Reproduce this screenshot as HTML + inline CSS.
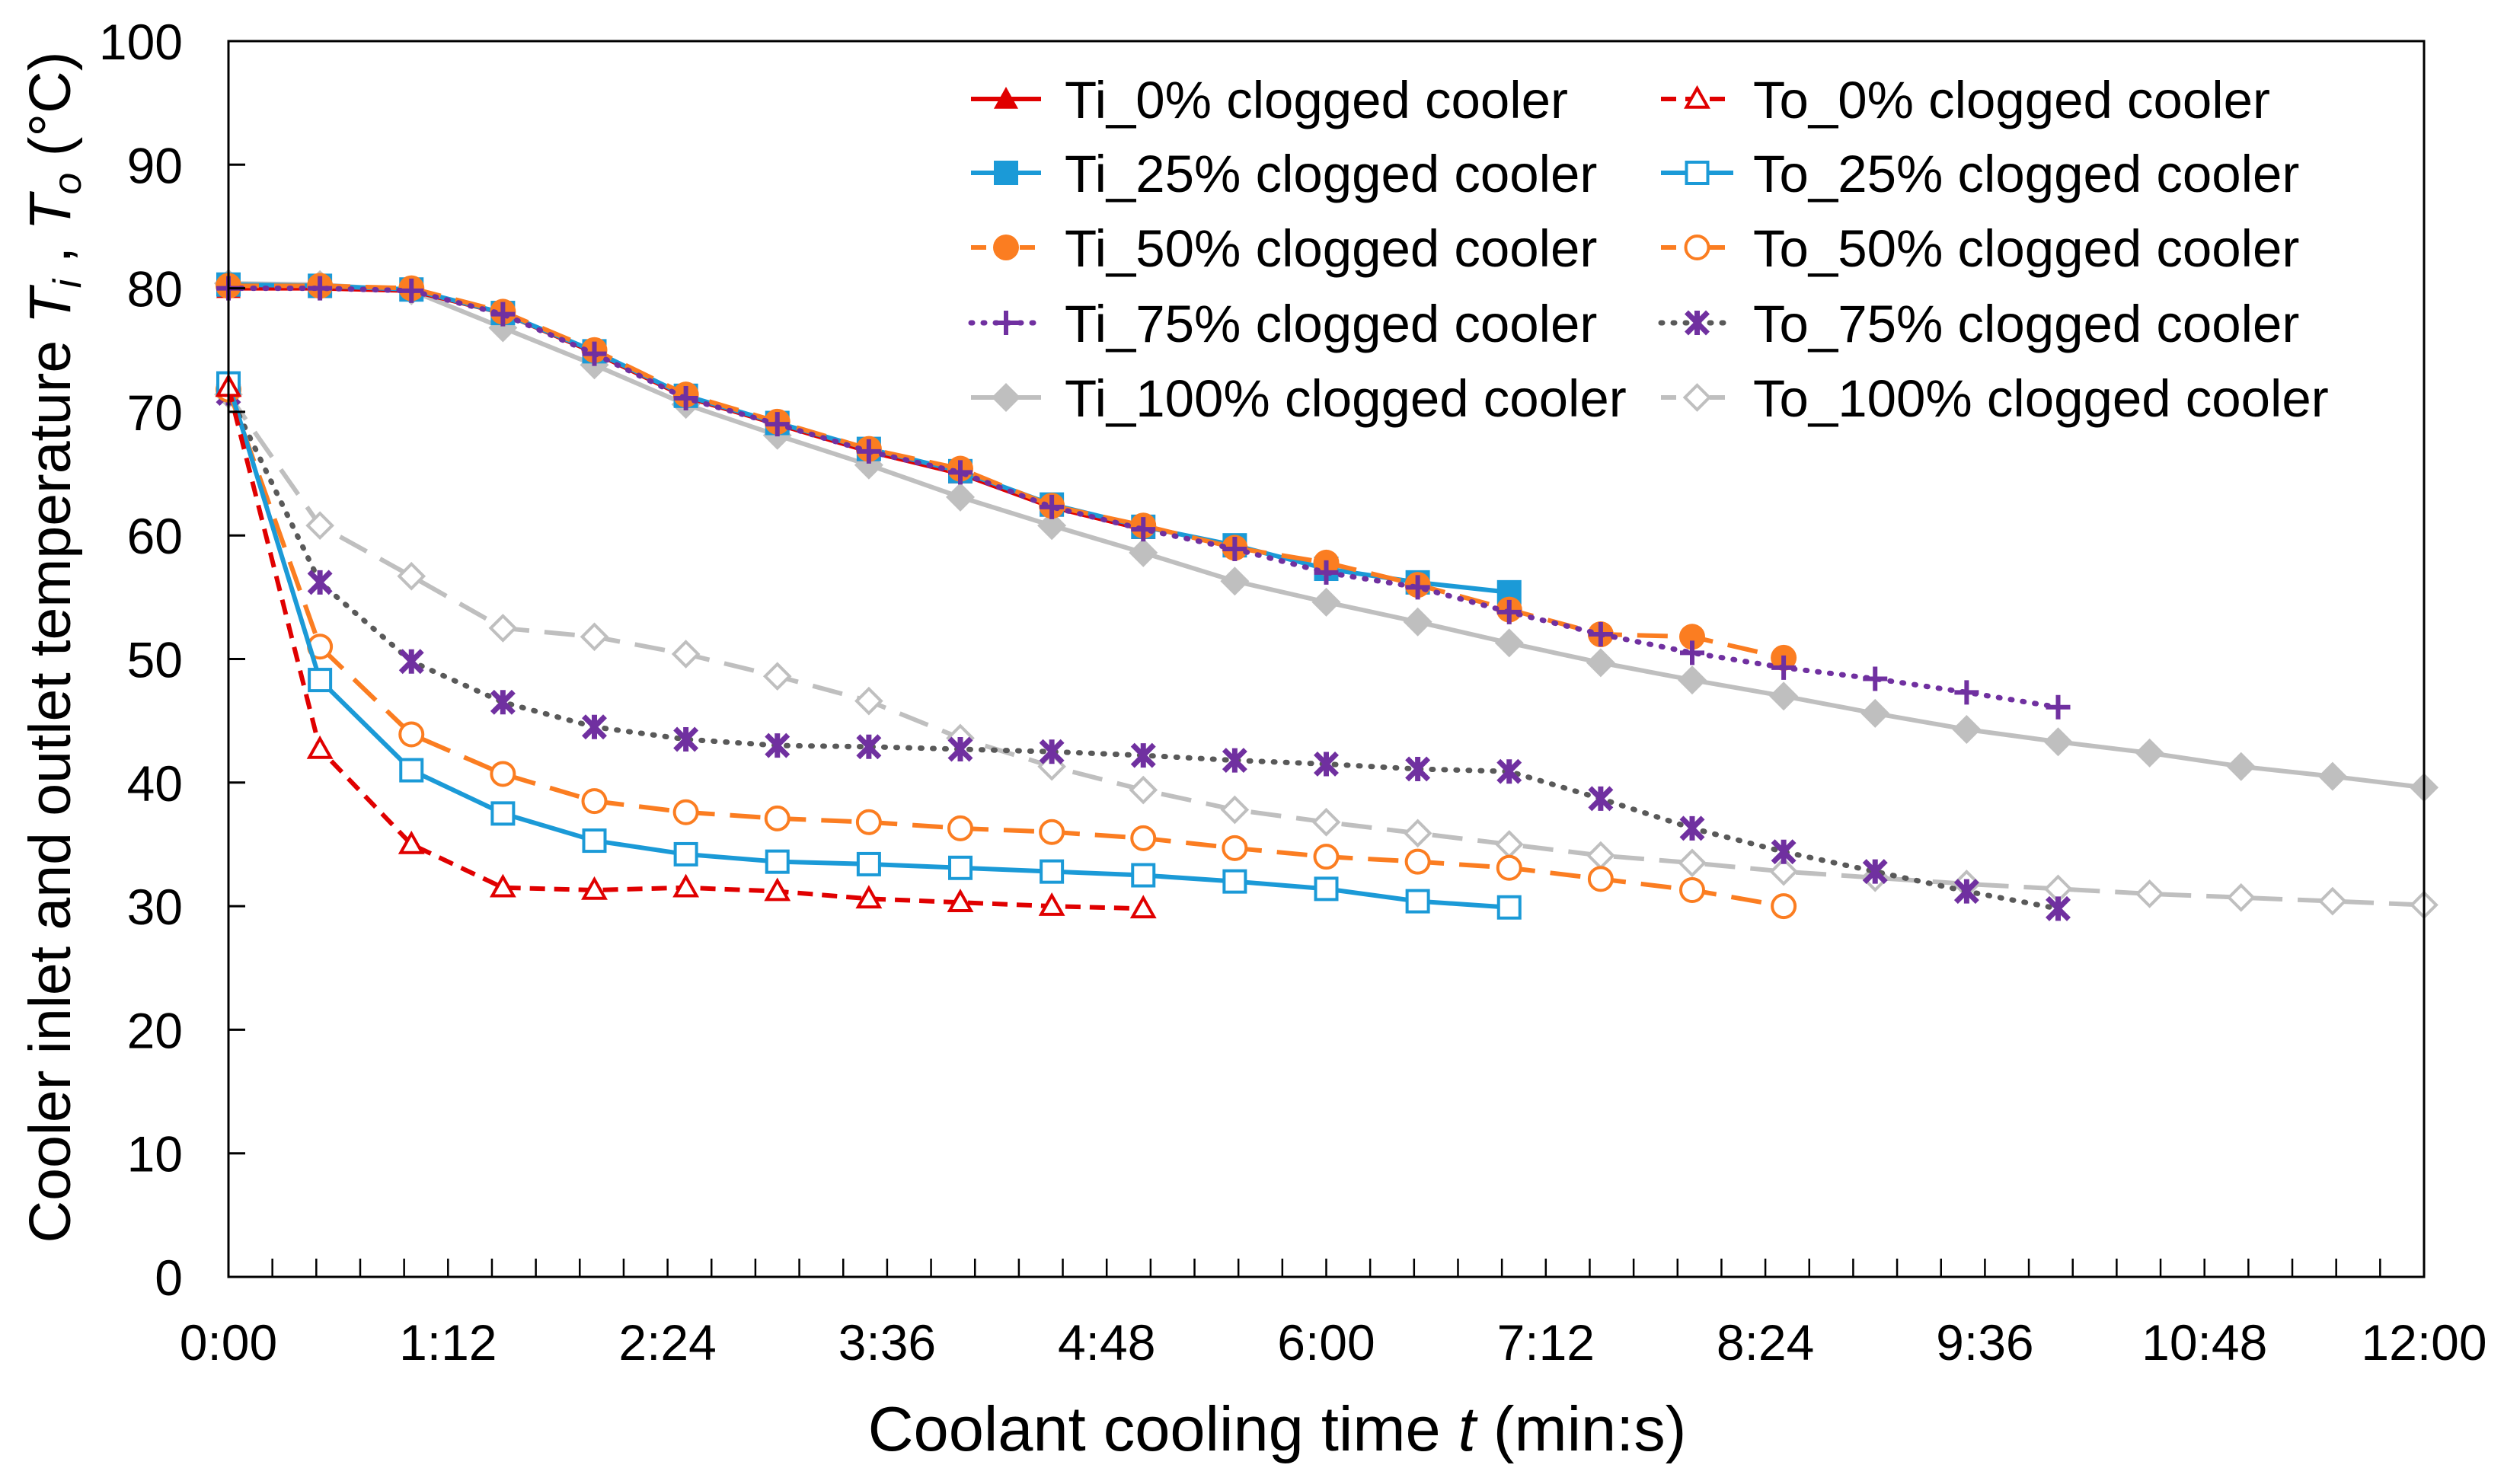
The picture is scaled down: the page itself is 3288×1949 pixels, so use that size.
<!DOCTYPE html>
<html><head><meta charset="utf-8"><style>
html,body{margin:0;padding:0;background:#fff;}
svg{display:block;font-family:"Liberation Sans",Arial,sans-serif;}
</style></head><body>
<svg id="chart" width="3288" height="1949" viewBox="0 0 3288 1949" xmlns="http://www.w3.org/2000/svg">
<rect x="0" y="0" width="3288" height="1949" fill="#fff"/>
<g id="grid"></g>
<g id="series"></g>
<g id="axes"></g>
<g id="legend"></g>
<text x="1677" y="1905" font-size="83" text-anchor="middle">Coolant cooling time <tspan font-style="italic">t</tspan> (min:s)</text>
<text transform="translate(92,850) rotate(-90)" font-size="77" text-anchor="middle">Cooler inlet and outlet temperature <tspan font-style="italic">T</tspan><tspan font-style="italic" font-size="52" dy="14">i</tspan><tspan dy="-14"> ,  </tspan><tspan font-style="italic">T</tspan><tspan font-style="italic" font-size="52" dy="14">o</tspan><tspan dy="-14"> (°C)</tspan></text>
</svg>
<script>
// ---- data (time in seconds, step 30 s) ----
const xTickLabels = ["0:00","1:12","2:24","3:36","4:48","6:00","7:12","8:24","9:36","10:48","12:00"];
const yTickLabels = [0,10,20,30,40,50,60,70,80,90,100];
const ti0   = [80,80,79.8,78,74.8,71.2,69,66.8,65,62.3,60.5];
const to0   = [72,42.7,35,31.5,31.3,31.5,31.2,30.6,30.3,30,29.8];
const ti25  = [80.3,80.2,79.9,78,74.9,71.3,69.1,67,65.2,62.5,60.7,59.2,57.3,56.2,55.4];
const to25  = [72.3,48.3,41,37.5,35.3,34.2,33.6,33.4,33.1,32.8,32.5,32,31.4,30.4,29.9];
const ti50  = [80.2,80.2,80,78.1,75,71.4,69.2,67,65.4,62.4,60.8,59,57.8,56,54,52,51.8,50.1];
const to50  = [71.8,51,43.9,40.7,38.5,37.6,37.1,36.8,36.3,36,35.5,34.7,34,33.6,33.1,32.2,31.3,30];
const ti75  = [80,80,79.8,77.9,74.7,71.1,69,66.8,65.1,62.3,60.5,58.9,57,55.8,53.8,52,50.5,49.3,48.4,47.3,46.1];
const to75  = [71.5,56.2,49.8,46.5,44.5,43.5,43,42.9,42.7,42.5,42.2,41.8,41.5,41.1,40.9,38.7,36.3,34.4,32.8,31.2,29.8];
const ti100 = [80.4,80.3,79.8,76.8,73.8,70.6,68.1,65.7,63.1,60.8,58.6,56.3,54.6,53,51.3,49.7,48.3,47,45.6,44.3,43.3,42.4,41.3,40.5,39.6];
const to100 = [71.4,60.8,56.7,52.5,51.8,50.4,48.6,46.6,43.6,41.3,39.4,37.8,36.8,35.9,35,34.1,33.5,32.8,32.3,31.8,31.4,31,30.7,30.4,30.1];
const timeStep = 30;

const NS="http://www.w3.org/2000/svg";
const L=300,R=3183,T=54,B=1677,XMAX=720,YMAX=100;
const xs=t=>L+(t/XMAX)*(R-L);
const ys=v=>B-(v/YMAX)*(B-T);
function mk(tag,attrs,parent){const e=document.createElementNS(NS,tag);for(const k in attrs)e.setAttribute(k,attrs[k]);parent.appendChild(e);return e;}
const axes=document.getElementById('axes'),ser=document.getElementById('series'),leg=document.getElementById('legend');

const frame=mk('rect',{x:L,y:T,width:R-L,height:B-T,fill:'none',stroke:'#000','stroke-width':3},axes);


yTickLabels.forEach(v=>{
  const y=ys(v);
  const tk=mk('line',{x1:L,x2:L+22,y1:y,y2:y,stroke:'#000','stroke-width':3},axes);
  
  
  const tx=mk('text',{x:240,y:y+24,'font-size':66,'text-anchor':'end'},axes);
  tx.textContent=v;
  
  
});
for(let i=0;i<=50;i++){
  const x=xs(i*14.4);
  const tk=mk('line',{x1:x,x2:x,y1:B,y2:B-24,stroke:'#000','stroke-width':2.5},axes);
  
  
}
xTickLabels.forEach((s,i)=>{
  const tx=mk('text',{x:xs(i*72),y:1786,'font-size':66,'text-anchor':'middle'},axes);
  tx.textContent=s;
  
  
});

const RED='#e00000',BLUE='#1b9ad7',ORANGE='#fb7d21',PURPLE='#7030a0',GRAY='#bfbfbf',DGRAY='#595959';
function marker(type,cx,cy,color,parent,name){
  const s=16;let e;
  const w=4;
  if(type==='tri') e=mk('polygon',{points:`${cx},${cy-s} ${cx+s},${cy+s*0.8} ${cx-s},${cy+s*0.8}`,fill:color},parent);
  else if(type==='triO') e=mk('polygon',{points:`${cx},${cy-s+2} ${cx+s-2},${cy+s*0.8-2} ${cx-s+2},${cy+s*0.8-2}`,fill:'#fff',stroke:color,'stroke-width':w},parent);
  else if(type==='sq') e=mk('rect',{x:cx-s,y:cy-s,width:2*s,height:2*s,fill:color},parent);
  else if(type==='sqO') e=mk('rect',{x:cx-s+2,y:cy-s+2,width:2*s-4,height:2*s-4,fill:'#fff',stroke:color,'stroke-width':w},parent);
  else if(type==='circ') e=mk('circle',{cx:cx,cy:cy,r:s+1,fill:color},parent);
  else if(type==='circO') e=mk('circle',{cx:cx,cy:cy,r:s-1,fill:'#fff',stroke:color,'stroke-width':w},parent);
  else if(type==='plus') e=mk('path',{d:`M${cx-s} ${cy}H${cx+s}M${cx} ${cy-s}V${cy+s}`,stroke:color,'stroke-width':6,fill:'none'},parent);
  else if(type==='x') e=mk('path',{d:`M${cx-s+2} ${cy-s+2}L${cx+s-2} ${cy+s-2}M${cx+s-2} ${cy-s+2}L${cx-s+2} ${cy+s-2}M${cx} ${cy-s}V${cy+s}`,stroke:color,'stroke-width':7,fill:'none'},parent);
  else if(type==='dia') e=mk('polygon',{points:`${cx},${cy-s-3} ${cx+s+3},${cy} ${cx},${cy+s+3} ${cx-s-3},${cy}`,fill:color},parent);
  else if(type==='diaO') e=mk('polygon',{points:`${cx},${cy-s} ${cx+s},${cy} ${cx},${cy+s} ${cx-s},${cy}`,fill:'#fff',stroke:color,'stroke-width':w},parent);
  
  
  return e;
}
const series=[
 {name:'to-100',data:to100,color:GRAY,dash:'40 20',mk:'diaO',mc:GRAY,label:'To_100% clogged cooler'},
 {name:'to-75',data:to75,color:DGRAY,dash:'2 14',cap:'round',mk:'x',mc:PURPLE,label:'To_75% clogged cooler'},
 {name:'to-50',data:to50,color:ORANGE,dash:'40 20',mk:'circO',mc:ORANGE,label:'To_50% clogged cooler'},
 {name:'to-25',data:to25,color:BLUE,dash:'',mk:'sqO',mc:BLUE,label:'To_25% clogged cooler'},
 {name:'to-0',data:to0,color:RED,dash:'20 12',mk:'triO',mc:RED,label:'To_0% clogged cooler'},
 {name:'ti-100',data:ti100,color:GRAY,dash:'',mk:'dia',mc:GRAY,label:'Ti_100% clogged cooler'},
 {name:'ti-0',data:ti0,color:RED,dash:'',mk:'tri',mc:RED,label:'Ti_0% clogged cooler'},
 {name:'ti-25',data:ti25,color:BLUE,dash:'',mk:'sq',mc:BLUE,label:'Ti_25% clogged cooler'},
 {name:'ti-50',data:ti50,color:ORANGE,dash:'40 20',mk:'circ',mc:ORANGE,label:'Ti_50% clogged cooler'},
 {name:'ti-75',data:ti75,color:PURPLE,dash:'2 14',cap:'round',mk:'plus',mc:PURPLE,label:'Ti_75% clogged cooler'},
];
series.forEach(s=>{
  const g=mk('g',{},ser);
  
  
  const pts=s.data.map((v,i)=>xs(i*timeStep)+','+ys(v)).join(' ');
  const ln=mk('polyline',{points:pts,fill:'none',stroke:s.color,'stroke-width':s.cap?7:6,'stroke-dasharray':s.dash,'stroke-linecap':s.cap||'butt','stroke-linejoin':'round'},g);
  
  
  s.data.forEach((v,i)=>marker(s.mk,xs(i*timeStep),ys(v),s.mc,g,'point-'+s.name));
});
const legOrder=[['ti-0','to-0'],['ti-25','to-25'],['ti-50','to-50'],['ti-75','to-75'],['ti-100','to-100']];
const rowsY=[130,227,325,424,522];
const cols=[{x1:1275,x2:1367,tx:1398},{x1:2181,x2:2276,tx:2302}];
legOrder.forEach((row,r)=>row.forEach((nm,c)=>{
  const s=series.find(q=>q.name===nm);const col=cols[c];const y=rowsY[r];
  const g=mk('g',{},leg);
  
  
  const ln=mk('line',{x1:col.x1,x2:col.x2,y1:y,y2:y,stroke:s.color,'stroke-width':s.cap?7:6,'stroke-dasharray':s.dash?(s.cap?'2 14':'20 12'):'','stroke-linecap':s.cap||'butt'},g);
  
  
  marker(s.mk,(col.x1+col.x2)/2,y,s.mc,g,'legend-marker');
  const t=mk('text',{x:col.tx,y:y+25,'font-size':69},g);
  t.textContent=s.label;
  
  
}));
</script>
</body></html>
